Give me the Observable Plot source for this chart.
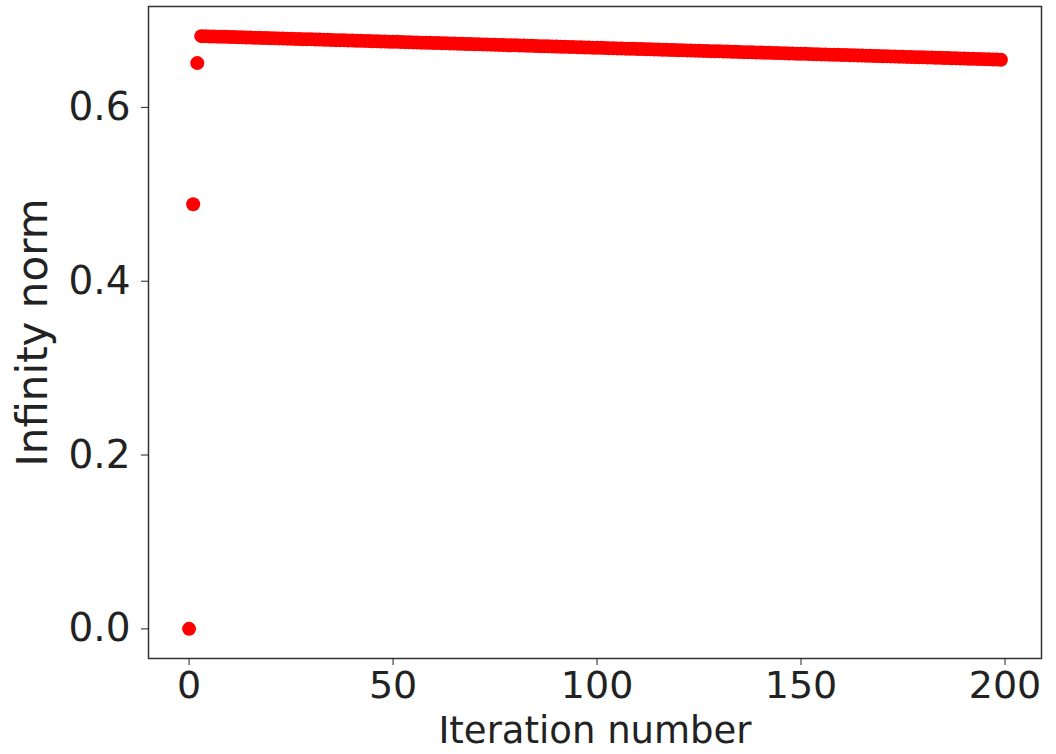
<!DOCTYPE html>
<html>
<head>
<meta charset="utf-8">
<script src="https://cdn.jsdelivr.net/npm/d3@7"></script>
<script src="https://cdn.jsdelivr.net/npm/@observablehq/plot@0.6"></script>
<style>
  html, body { margin: 0; padding: 0; background: #fff; }
</style>
</head>
<body>
<div id="chart"></div>
<script>
// Infinity norm per iteration (iteration = array index)
const infinityNorm = [
  0.0000, 0.4885, 0.6510, 0.6820, 0.6819, 0.6817, 0.6816, 0.6814, 0.6813, 0.6812,
  0.6810, 0.6809, 0.6807, 0.6806, 0.6805, 0.6803, 0.6802, 0.6801, 0.6799, 0.6798,
  0.6796, 0.6795, 0.6794, 0.6792, 0.6791, 0.6790, 0.6788, 0.6787, 0.6785, 0.6784,
  0.6783, 0.6781, 0.6780, 0.6779, 0.6777, 0.6776, 0.6774, 0.6773, 0.6772, 0.6770,
  0.6769, 0.6767, 0.6766, 0.6765, 0.6763, 0.6762, 0.6761, 0.6759, 0.6758, 0.6756,
  0.6755, 0.6754, 0.6752, 0.6751, 0.6750, 0.6748, 0.6747, 0.6745, 0.6744, 0.6743,
  0.6741, 0.6740, 0.6738, 0.6737, 0.6736, 0.6734, 0.6733, 0.6732, 0.6730, 0.6729,
  0.6727, 0.6726, 0.6725, 0.6723, 0.6722, 0.6721, 0.6719, 0.6718, 0.6716, 0.6715,
  0.6714, 0.6712, 0.6711, 0.6710, 0.6708, 0.6707, 0.6705, 0.6704, 0.6703, 0.6701,
  0.6700, 0.6698, 0.6697, 0.6696, 0.6694, 0.6693, 0.6692, 0.6690, 0.6689, 0.6687,
  0.6686, 0.6685, 0.6683, 0.6682, 0.6681, 0.6679, 0.6678, 0.6676, 0.6675, 0.6674,
  0.6672, 0.6671, 0.6669, 0.6668, 0.6667, 0.6665, 0.6664, 0.6663, 0.6661, 0.6660,
  0.6658, 0.6657, 0.6656, 0.6654, 0.6653, 0.6652, 0.6650, 0.6649, 0.6647, 0.6646,
  0.6645, 0.6643, 0.6642, 0.6640, 0.6639, 0.6638, 0.6636, 0.6635, 0.6634, 0.6632,
  0.6631, 0.6629, 0.6628, 0.6627, 0.6625, 0.6624, 0.6623, 0.6621, 0.6620, 0.6618,
  0.6617, 0.6616, 0.6614, 0.6613, 0.6612, 0.6610, 0.6609, 0.6607, 0.6606, 0.6605,
  0.6603, 0.6602, 0.6600, 0.6599, 0.6598, 0.6596, 0.6595, 0.6594, 0.6592, 0.6591,
  0.6589, 0.6588, 0.6587, 0.6585, 0.6584, 0.6583, 0.6581, 0.6580, 0.6578, 0.6577,
  0.6576, 0.6574, 0.6573, 0.6572, 0.6570, 0.6569, 0.6567, 0.6566, 0.6565, 0.6563,
  0.6562, 0.6560, 0.6559, 0.6558, 0.6556, 0.6555, 0.6554, 0.6552, 0.6551, 0.6549
];
const xTicks = [0, 50, 100, 150, 200];
const yTicks = [0.0, 0.2, 0.4, 0.6];
const xLabel = "Iteration number";
const yLabel = "Infinity norm";

const data = infinityNorm.map((v, i) => ({iteration: i, norm: v}));

const chart = Plot.plot({
  width: 1056,
  height: 754,
  marginLeft: 148,
  marginRight: 15,
  marginTop: 6,
  marginBottom: 96,
  style: {fontFamily: "'DejaVu Sans', sans-serif", fontSize: "39px", color: "#222", background: "#fff"},
  x: {domain: [-9.95, 208.95]},
  y: {domain: [-0.0341, 0.7161]},
  marks: [
    Plot.frame({stroke: "#333", strokeWidth: 1.5}),
    Plot.axisX({ticks: xTicks, tickSize: 7, tickPadding: 6, fontSize: 38, label: null, tickFormat: d3.format("d")}),
    Plot.axisY({ticks: yTicks, tickSize: 7, tickPadding: 11, label: null, tickFormat: d3.format(".1f")}),
    Plot.dot(data, {x: "iteration", y: "norm", r: 7, fill: "#ff0000", stroke: null}),
    Plot.text([xLabel], {frameAnchor: "bottom", textAnchor: "middle", lineAnchor: "top", dy: 58, fontSize: 37, fill: "#222"}),
    Plot.text([yLabel], {frameAnchor: "left", textAnchor: "middle", rotate: -90, lineAnchor: "middle", dx: -115, fontSize: 42, fill: "#222"})
  ]
});
document.getElementById("chart").appendChild(chart);
</script>
</body>
</html>
